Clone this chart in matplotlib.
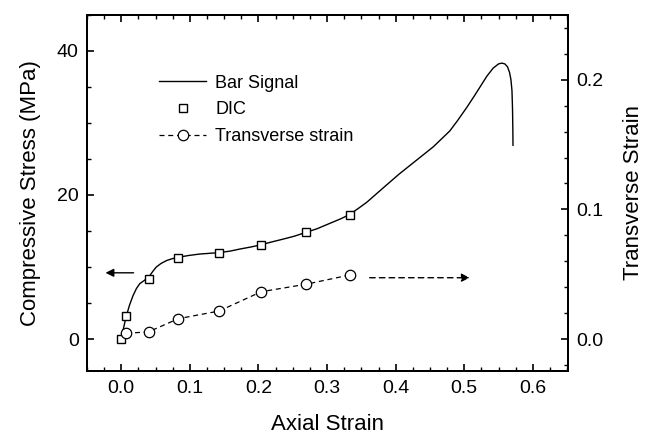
import matplotlib.pyplot as plt
from matplotlib.ticker import MultipleLocator

plt.rcParams['font.family'] = ['Liberation Sans', 'DejaVu Sans']

# Bar signal (stress vs axial strain)
bar_strain = [0, 0.003, 0.0073, 0.012, 0.017, 0.022, 0.027, 0.033, 0.040, 0.046,
              0.051, 0.058, 0.066, 0.074, 0.083, 0.098, 0.114, 0.128, 0.1425, 0.158,
              0.173, 0.19, 0.204, 0.22, 0.237, 0.253, 0.2686, 0.285, 0.30, 0.32,
              0.333, 0.345, 0.358, 0.37, 0.382, 0.405, 0.43, 0.455, 0.479, 0.49,
              0.504, 0.515, 0.523, 0.533, 0.542, 0.55, 0.5547, 0.559, 0.563, 0.566,
              0.568, 0.5695, 0.5703, 0.5708, 0.571]
bar_stress = [0, 1.4, 3.2, 4.7, 6.0, 7.0, 7.7, 8.1, 8.6, 9.4,
              10.0, 10.5, 10.9, 11.15, 11.35, 11.6, 11.8, 11.9, 12.0, 12.2,
              12.5, 12.8, 13.1, 13.5, 13.9, 14.3, 14.8, 15.3, 15.9, 16.7,
              17.3, 18.1, 19.0, 20.0, 21.0, 22.9, 24.8, 26.7, 28.9, 30.3,
              32.2, 33.8, 35.0, 36.5, 37.6, 38.2, 38.3, 38.2, 37.8, 37.0,
              36.0, 34.5, 32.0, 29.0, 26.9]

# DIC points
dic_strain = [0, 0.0073, 0.040, 0.083, 0.1425, 0.204, 0.2686, 0.333]
dic_stress = [0, 3.2, 8.36, 11.2, 11.9, 13.0, 14.8, 17.2]

# transverse strain
tr_axial = [0.0073, 0.040, 0.083, 0.1425, 0.204, 0.2686, 0.333]
tr_strain = [0.0044, 0.0056, 0.0157, 0.0216, 0.0365, 0.0422, 0.0494]

fig = plt.figure(figsize=(6.49, 4.37), dpi=100)
ax = fig.add_axes([0.134, 0.152, 0.741, 0.814])
ax2 = ax.twinx()

l1, = ax.plot(bar_strain, bar_stress, color='black', lw=1.0, label='Bar Signal')
l2, = ax.plot(dic_strain, dic_stress, ls='none', marker='s', ms=6, mfc='white',
              mec='black', mew=1.0, label='DIC')
l3, = ax2.plot(tr_axial, tr_strain, color='black', lw=0.9, dashes=(4, 3), marker='o',
               ms=7.5, mfc='white', mec='black', mew=0.9, label='Transverse strain')

ax.set_xlim(-0.05, 0.651)
ax.set_ylim(-4.37, 45)
ax2.set_ylim(-0.0243, 0.25)

ax.xaxis.set_major_locator(MultipleLocator(0.1))
ax.xaxis.set_minor_locator(MultipleLocator(0.025))
ax.yaxis.set_major_locator(MultipleLocator(20))
ax.yaxis.set_minor_locator(MultipleLocator(5))
ax2.yaxis.set_major_locator(MultipleLocator(0.1))
ax2.yaxis.set_minor_locator(MultipleLocator(0.02))
ax.xaxis.set_major_formatter(plt.FormatStrFormatter('%.1f'))
ax2.yaxis.set_major_formatter(plt.FormatStrFormatter('%.1f'))

ax.tick_params(axis='x', which='both', direction='in', top=True, labelsize=14, pad=7)
ax.tick_params(axis='y', which='both', direction='in', labelsize=14, pad=6)
ax2.tick_params(axis='y', which='both', direction='in', labelsize=14, pad=6)
for a in (ax, ax2):
    a.tick_params(which='major', length=5, width=1.2)
    a.tick_params(which='minor', length=3, width=1.0)
    for s in a.spines.values():
        s.set_linewidth(1.4)

ax.set_xlabel('Axial Strain', fontsize=16, labelpad=12)
ax.set_ylabel('Compressive Stress (MPa)', fontsize=16, labelpad=11)
ax2.set_ylabel('Transverse Strain', fontsize=16, labelpad=14)

# direction arrows
ax.annotate('', xy=(-0.027, 9.2), xytext=(0.022, 9.2),
            arrowprops=dict(arrowstyle='-|>', color='black', lw=1.0, mutation_scale=12))
ax2.annotate('', xy=(0.512, 0.0473), xytext=(0.358, 0.0473),
             arrowprops=dict(arrowstyle='-|>', color='black', lw=1.0, ls=(0, (4, 3)),
                             mutation_scale=12))

ax.legend(handles=[l1, l2, l3], loc='upper left', bbox_to_anchor=(0.117, 0.878),
          frameon=False, fontsize=13, handlelength=2.6, handletextpad=0.5,
          labelspacing=0.55, numpoints=1)

fig.savefig('out.png', dpi=100)
